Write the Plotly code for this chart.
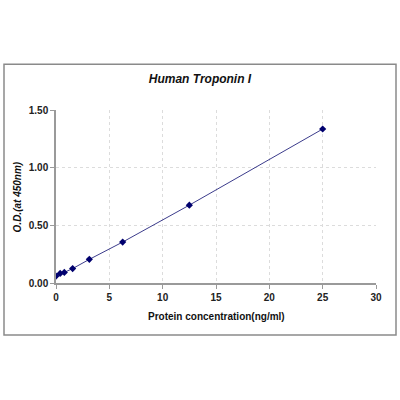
import plotly.graph_objects as go

# standard curve, Human Troponin I ELISA
concentration = [0, 0.39, 0.78, 1.56, 3.125, 6.25, 12.5, 25]
od_450 = [0.06, 0.083, 0.092, 0.125, 0.205, 0.355, 0.675, 1.335]

x_ticks = [0, 5, 10, 15, 20, 25, 30]
y_ticks = [0.0, 0.5, 1.0, 1.5]

font_family = 'Liberation Sans, Arial, sans-serif'

fig = go.Figure()
fig.add_trace(go.Scatter(
    x=concentration, y=od_450, mode='lines+markers',
    line=dict(color='#3c3c8c', width=1),
    marker=dict(symbol='diamond', size=5.5, color='#00006e'),
    showlegend=False,
))

fig.update_layout(
    width=400, height=400,
    margin=dict(l=56, r=24, t=110, b=117),
    paper_bgcolor='white', plot_bgcolor='white',
    font=dict(family=font_family, color='#222222'),
    title=dict(text='<b><i>Human Troponin I</i></b>', x=0.5, xanchor='center',
               y=1 - 79 / 400, yanchor='middle', font=dict(size=12, color='#111111')),
)

fig.update_xaxes(
    range=[0, 30], tickvals=x_ticks, ticktext=['<b>%d</b>' % v for v in x_ticks],
    showline=True, linecolor='#9a9a9a', linewidth=1.5,
    ticks='outside', ticklen=4, tickcolor='#9a9a9a',
    showgrid=True, gridcolor='#dcdcdc', griddash='dot', gridwidth=1,
    zeroline=False, automargin=False,
    tickfont=dict(size=10, color='#222222'),
)
fig.update_yaxes(
    range=[0, 1.5], tickvals=y_ticks, ticktext=['<b>%.2f</b>' % v for v in y_ticks],
    showline=True, linecolor='#9a9a9a', linewidth=1.5,
    ticks='outside', ticklen=4, tickcolor='#9a9a9a',
    showgrid=True, gridcolor='#dcdcdc', griddash='dot', gridwidth=1,
    zeroline=False, automargin=False,
    tickfont=dict(size=10, color='#222222'),
)

# axis titles as annotations so they sit where the original has them
fig.add_annotation(text='<b>Protein concentration(ng/ml)</b>', xref='paper', yref='paper',
                   x=0.5, y=-0.191, xanchor='center', yanchor='middle', showarrow=False,
                   font=dict(size=10, color='#111111'))
fig.add_annotation(text='<b><i>O.D.(at 450nm)</i></b>', xref='paper', yref='paper',
                   x=-0.119, y=0.5, xanchor='center', yanchor='middle', showarrow=False,
                   textangle=-90, font=dict(size=10, color='#111111'))

# grey frame around the whole chart
fig.add_shape(type='rect', xref='paper', yref='paper',
              x0=-0.1625, x1=1.0625, y0=-0.3006, y1=1.264,
              line=dict(color='#8a8a8a', width=1.5), layer='below')

# drop the default body margin so the 400x400 figure fills the window
fig.write_html("out.html", config={'displayModeBar': False},
               post_script="document.body.style.margin='0px';")
